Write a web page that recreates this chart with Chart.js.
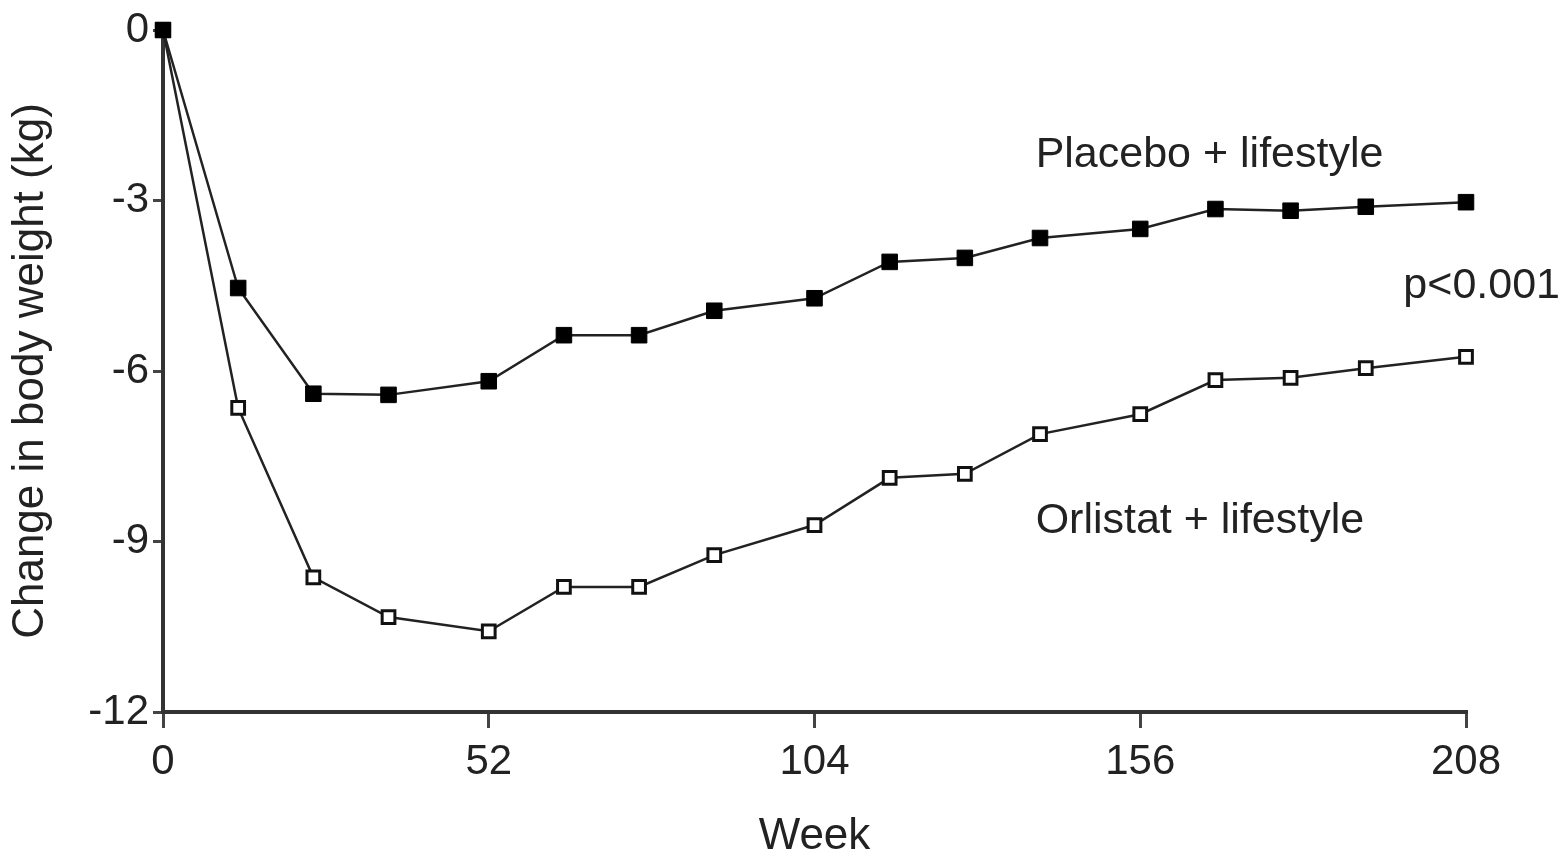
<!DOCTYPE html>
<html>
<head>
<meta charset="utf-8">
<script src="https://cdn.jsdelivr.net/npm/chart.js@4/dist/chart.umd.min.js"></script>
<style>
  html, body { margin: 0; padding: 0; background: #fff; }
  #wrap { width: 1565px; height: 859px; }
</style>
</head>
<body>
<div id="wrap"><canvas id="chartWeight"></canvas></div>
<script>
var weeks = [0, 12, 24, 36, 52, 64, 76, 88, 104, 116, 128, 140, 156, 168, 180, 192, 208];
var placebo = [0, -4.54, -6.4, -6.42, -6.18, -5.37, -5.37, -4.94, -4.72, -4.08, -4.01, -3.66, -3.5, -3.15, -3.18, -3.11, -3.03];
var orlistat = [0, -6.65, -9.63, -10.33, -10.58, -9.8, -9.8, -9.24, -8.71, -7.88, -7.81, -7.11, -6.76, -6.16, -6.12, -5.95, -5.75];
var xTicks = [0, 52, 104, 156, 208];
var yTicks = [0, -3, -6, -9, -12];

// text labels placed in data units
var notes = [
    { text: 'Placebo + lifestyle', x: 139.3, y: -2.2 },
    { text: 'p<0.001', x: 198, y: -4.5 },
    { text: 'Orlistat + lifestyle', x: 139.3, y: -8.65 }
];

function toXY(xs, ys) {
    var out = [];
    for (var i = 0; i < xs.length; i++) {
        out.push({ x: xs[i], y: ys[i] });
    }
    return out;
}

var fontFam = '"Liberation Sans", Arial, sans-serif';
var ink = '#222';

var notesPlugin = {
    id: 'notes',
    afterDatasetsDraw: function (chart) {
        var c = chart.ctx;
        var xs = chart.scales.x, ys = chart.scales.y;
        c.save();
        c.fillStyle = ink;
        c.font = '43px ' + fontFam;
        c.textAlign = 'left';
        c.textBaseline = 'middle';
        notes.forEach(function (n) {
            c.fillText(n.text, xs.getPixelForValue(n.x), ys.getPixelForValue(n.y));
        });
        c.restore();
    }
};

var ctx = document.getElementById('chartWeight').getContext('2d');
var myChart = new Chart(ctx, {
    type: 'line',
    data: {
        datasets: [{
            label: 'Placebo + lifestyle',
            data: toXY(weeks, placebo),
            borderColor: ink,
            borderWidth: 2.5,
            pointStyle: 'rect',
            pointRadius: 11,
            pointBackgroundColor: '#000',
            pointBorderColor: '#000',
            pointBorderWidth: 1,
            tension: 0,
            clip: false
        }, {
            label: 'Orlistat + lifestyle',
            data: toXY(weeks, orlistat),
            borderColor: ink,
            borderWidth: 2.5,
            pointStyle: 'rect',
            pointRadius: 9,
            pointBackgroundColor: '#fff',
            pointBorderColor: '#111',
            pointBorderWidth: 3,
            tension: 0,
            clip: false
        }]
    },
    options: {
        responsive: true,
        maintainAspectRatio: false,
        animation: false,
        layout: { padding: { top: 30, right: 99, left: 0, bottom: 0 } },
        plugins: {
            legend: { display: false },
            tooltip: { enabled: false }
        },
        scales: {
            x: {
                type: 'linear',
                min: 0,
                max: 208,
                afterBuildTicks: function (s) {
                    s.ticks = xTicks.map(function (v) { return { value: v }; });
                },
                afterFit: function (s) { s.height = 147; },
                grid: { drawOnChartArea: false, drawTicks: true, tickLength: 16, color: '#444', lineWidth: 3 },
                border: { display: true, color: '#333', width: 4 },
                ticks: { color: ink, font: { family: fontFam, size: 42 }, padding: 9, maxRotation: 0 },
                title: { display: true, text: 'Week', color: ink, font: { family: fontFam, size: 44, lineHeight: 1 }, padding: { top: 20, bottom: 0 } }
            },
            y: {
                type: 'linear',
                min: -12,
                max: 0,
                afterBuildTicks: function (s) {
                    s.ticks = yTicks.map(function (v) { return { value: v }; });
                },
                afterFit: function (s) { s.width = 163; },
                grid: { drawOnChartArea: false, drawTicks: true, tickLength: 10, color: '#444', lineWidth: 3 },
                border: { display: true, color: '#333', width: 4 },
                ticks: { color: ink, font: { family: fontFam, size: 42 }, padding: 4 },
                title: { display: true, text: 'Change in body weight (kg)', color: ink, font: { family: fontFam, size: 44 }, padding: { bottom: 10 } }
            }
        }
    },
    plugins: [notesPlugin]
});
</script>
</body>
</html>
